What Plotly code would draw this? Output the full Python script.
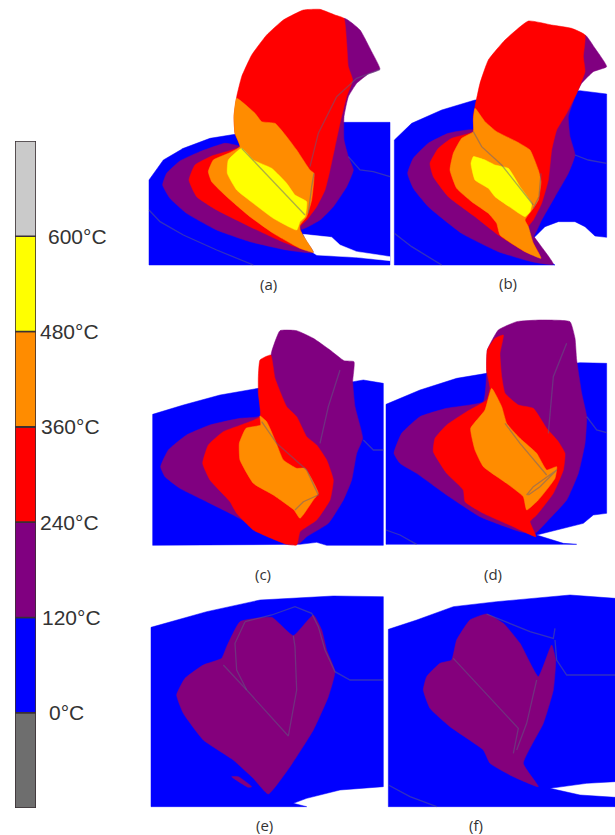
import plotly.graph_objects as go

# ---- colour scale data ----
SCALE_BASE = [-120, 0, 120, 240, 360, 480, 600]
SCALE_STEP = [120, 120, 120, 120, 120, 120, 120]
SCALE_COLORS = ["#6e6e6e", "#0000ff", "#800080", "#ff0000", "#ff8c00", "#ffff00", "#cacaca"]
SCALE_TICKS = [0, 120, 240, 360, 480, 600]
SCALE_LABELS = ["0°C", "120°C", "240°C", "360°C", "480°C", "600°C"]
SCALE_LABEL_X = [47, 40, 38, 39, 38, 46]

BLUE, PURPLE, RED, ORANGE, YELLOW = "#0000ff", "#800080", "#ff0000", "#ff8c00", "#ffff00"
PLUM = "#84007c"
WHITE = "#ffffff"

# ---- outlines, in 1/3 pixel crop units ----
A_ORIGIN = (140, 0)
A_BLUE = [(27,540),(70,480),(130,445),(210,415),(290,402),(612,367),(750,367),(750,795),(27,795)]
A_GAP = [(490,703),(540,708),(575,712),(600,735),(650,755),(750,770),(750,782),(650,772),(530,765),(515,755)]
A_P1 = [(68,555),(80,520),(120,483),(180,455),(255,430),(300,440),(400,600),(520,757),(440,750),(330,725),(230,690),(140,640),(90,595)]
A_P2 = [(612,55),(660,90),(695,155),(720,208),(685,222),(650,250),(625,290),(612,350),(612,420),(625,470),(640,510),(620,560),(580,620),(540,660),(485,688),(480,670),(500,600),(520,500)]
A_R = [(290,290),(305,230),(335,165),(380,105),(430,60),(490,30),(540,28),(585,45),(612,55),(620,130),(625,200),(638,240),(620,290),(600,370),(585,440),(570,510),(555,570),(530,620),(500,660),(480,680),(500,750),(420,722),(330,680),(230,630),(170,590),(147,540),(165,495),(215,468),(300,440),(285,400),(282,350)]
A_O = [(290,295),(345,340),(365,365),(405,370),(440,410),(470,450),(510,510),(522,520),(515,600),(500,650),(480,675),(480,690),(520,757),(480,745),(400,700),(330,650),(260,590),(215,545),(205,515),(220,480),(265,460),(300,440),(285,400),(282,350)]
A_Y = [(305,445),(340,480),(395,505),(440,550),(465,585),(500,605),(495,650),(480,665),(470,690),(400,655),(340,610),(290,570),(262,520),(265,480)]
A_L1 = [(305,445),(400,545),(495,645)]
A_L2 = [(27,630),(60,665),(130,705),(230,750),(340,795)]
A_L3 = [(522,520),(515,560),(505,640)]
A_L4 = [(510,500),(535,400),(590,290),(650,235),(720,208)]
A_L5 = [(625,470),(660,510),(700,515),(750,530)]

B_ORIGIN = (385, 0)
B_BLUE = [(28,420),(80,370),(170,330),(270,300),(585,272),(665,282),(665,712),(630,708),(600,680),(570,665),(520,665),(480,680),(445,715),(470,770),(510,795),(28,795)]
B_P1 = [(68,520),(85,475),(130,430),(190,400),(265,390),(300,450),(440,700),(505,793),(440,785),(340,755),(230,700),(130,620),(85,565)]
B_P2 = [(600,105),(630,145),(665,200),(625,215),(590,250),(570,290),(550,350),(555,410),(570,465),(550,520),(510,590),(470,660),(445,710),(430,680),(450,600),(480,400)]
B_R = [(270,320),(285,250),(310,180),(360,120),(430,63),(500,75),(560,85),(600,105),(595,170),(600,215),(575,280),(545,340),(515,390),(500,450),(490,540),(470,610),(445,660),(430,680),(440,720),(465,770),(420,755),(340,705),(270,650),(190,590),(145,530),(135,490),(160,445),(200,415),(265,395),(265,350)]
B_O = [(270,325),(300,365),(335,395),(395,425),(435,450),(460,510),(468,545),(460,600),(445,625),(420,660),(430,680),(445,730),(468,775),(420,755),(345,705),(335,670),(310,640),(260,605),(215,565),(195,510),(205,460),(230,415),(265,395),(265,360)]
B_Y = [(265,470),(300,480),(330,495),(370,505),(405,560),(440,610),(435,635),(420,650),(380,625),(330,590),(310,565),(270,540),(258,490)]
B_L1 = [(265,395),(290,440),(350,495),(400,560),(445,615)]
B_L2 = [(445,625),(462,590),(468,520)]
B_L3 = [(570,465),(610,480),(665,490)]
B_L4 = [(28,700),(80,740),(170,795)]

C_ORIGIN = (140, 310)
C_BLUE = [(38,313),(130,285),(240,255),(355,235),(640,215),(670,210),(730,220),(730,706),(560,706),(530,697),(480,703),(38,706)]
C_P = [(62,470),(85,420),(140,375),(210,345),(300,325),(360,318),(395,125),(420,62),(470,62),(520,85),(570,120),(612,152),(642,155),(638,215),(645,290),(668,385),(650,430),(635,510),(610,570),(565,640),(500,680),(478,700),(450,700),(380,670),(280,615),(190,570),(120,535),(75,500)]
C_R = [(360,150),(392,135),(405,205),(440,290),(470,320),(500,380),(530,405),(560,450),(580,510),(570,570),(530,630),(480,665),(470,705),(440,703),(340,660),(290,610),(270,575),(210,510),(188,460),(205,405),(250,365),(360,320),(355,250),(355,200)]
C_O = [(360,318),(380,335),(405,390),(430,450),(470,475),(495,475),(535,550),(520,570),(480,625),(462,600),(400,555),(340,520),(300,450),(298,400),(318,355),(362,345)]
C_L1 = [(365,335),(410,400),(500,480),(535,555),(490,575),(465,600)]
C_L2 = [(540,400),(565,290),(600,180)]
C_L3 = [(670,390),(700,420),(730,420)]

D_ORIGIN = (380, 310)
D_BLUE = [(18,283),(120,240),(230,205),(320,190),(600,158),(680,160),(680,610),(640,615),(610,640),(470,675),(550,700),(590,703),(18,703)]
D_P = [(42,430),(65,370),(120,320),(200,295),(310,275),(320,190),(322,120),(355,60),(410,35),(480,30),(570,35),(585,85),(590,150),(605,250),(620,320),(615,400),(595,490),(560,570),(510,625),(465,670),(420,665),(300,620),(200,555),(110,490),(60,460)]
D_R = [(345,85),(370,75),(360,130),(365,200),(375,250),(415,285),(460,295),(500,355),(535,395),(555,430),(550,480),(520,550),(470,615),(450,635),(468,680),(400,650),(310,610),(255,575),(250,540),(200,490),(160,425),(165,385),(200,345),(260,305),(320,270),(330,235),(320,180),(322,120)]
D_O = [(335,235),(365,290),(380,340),(420,385),(470,430),(500,480),(530,470),(525,505),(475,570),(440,600),(430,560),(380,520),(310,470),(285,420),(272,355),(315,300)]
D_L1 = [(375,340),(420,400),(500,495)]
D_L2 = [(440,555),(460,530),(530,480),(480,530),(445,555)]
D_L3 = [(505,370),(520,200),(560,100)]
D_L4 = [(620,320),(650,360),(680,368)]
D_L5 = [(18,660),(60,675),(110,703)]

E_ORIGIN = (140, 590)
E_BLUE = [(33,112),(200,65),(360,30),(580,18),(730,20),(730,590),(600,600),(500,625),(460,640),(500,650),(33,650)]
E_P = [(110,315),(135,265),(190,225),(245,205),(260,170),(300,95),(395,82),(460,137),(520,75),(545,120),(560,180),(585,245),(565,320),(520,420),(450,530),(385,612),(340,565),(280,510),(190,450),(130,370)]
E_SPOT = [(275,560),(295,560),(335,590),(325,592)]
E_L1 = [(315,95),(395,75),(465,50),(515,70),(535,110),(555,180),(585,245),(630,270),(730,270)]
E_L2 = [(315,95),(285,160),(290,240),(320,300),(445,438),(470,300),(465,170),(460,137)]
E_L3 = [(250,225),(320,300)]

F_ORIGIN = (380, 590)
F_BLUE = [(25,118),(110,90),(220,50),(350,35),(570,15),(705,25),(705,575),(620,580),(510,595),(600,615),(705,622),(705,650),(25,650)]
F_P = [(130,300),(140,260),(180,220),(215,210),(230,150),(270,90),(320,72),(370,100),(420,160),(475,260),(515,165),(527,210),(520,300),(490,400),(430,520),(475,590),(400,560),(330,520),(310,480),(210,410),(150,355)]
F_L1 = [(320,72),(390,100),(450,125),(520,145),(525,115)]
F_L2 = [(525,150),(530,210),(560,255),(705,255)]
F_L3 = [(220,205),(300,290),(415,415),(400,490)]
F_L4 = [(470,270),(440,400),(410,480)]
F_L5 = [(25,585),(90,620),(170,650)]

PANELS = [
    (A_ORIGIN, [(A_BLUE,BLUE,0),(A_GAP,WHITE,0),(A_P1,PURPLE,1),(A_P2,PURPLE,1),(A_R,RED,1),(A_O,ORANGE,1),(A_Y,YELLOW,1)], [A_L1,A_L2,A_L3,A_L4,A_L5]),
    (B_ORIGIN, [(B_BLUE,BLUE,0),(B_P1,PURPLE,1),(B_P2,PURPLE,1),(B_R,RED,1),(B_O,ORANGE,1),(B_Y,YELLOW,1)], [B_L1,B_L2,B_L3,B_L4]),
    (C_ORIGIN, [(C_BLUE,BLUE,0),(C_P,PURPLE,1),(C_R,RED,1),(C_O,ORANGE,1)], [C_L1,C_L2,C_L3]),
    (D_ORIGIN, [(D_BLUE,BLUE,0),(D_P,PURPLE,1),(D_R,RED,1),(D_O,ORANGE,1)], [D_L1,D_L2,D_L3,D_L4,D_L5]),
    (E_ORIGIN, [(E_BLUE,BLUE,0),(E_P,PLUM,1),(E_SPOT,PLUM,1)], [E_L1,E_L2,E_L3]),
    (F_ORIGIN, [(F_BLUE,BLUE,0),(F_P,PLUM,1)], [F_L1,F_L2,F_L3,F_L4,F_L5]),
]
PANEL_LABELS = ["(a)", "(b)", "(c)", "(d)", "(e)", "(f)"]
PANEL_LABEL_X = [268, 508, 263, 493, 264, 476]
PANEL_LABEL_Y = [284, 283, 574, 574, 825, 825]


def xy(origin, pts):
    return [origin[0] + p[0] / 3 for p in pts], [origin[1] + p[1] / 3 for p in pts]


fig = go.Figure()
for origin, regions, lines in PANELS:
    for pts, color, smooth in regions:
        x, y = xy(origin, pts + [pts[0]])
        fig.add_trace(go.Scatter(
            x=x, y=y, mode="lines", fill="toself", fillcolor=color,
            line=dict(color=color, width=0.5, shape="spline" if smooth else "linear", smoothing=0.4),
            hoverinfo="skip", showlegend=False))
    for pts in lines:
        x, y = xy(origin, pts)
        fig.add_trace(go.Scatter(
            x=x, y=y, mode="lines", line=dict(color="rgba(95,95,130,0.5)", width=1.3),
            hoverinfo="skip", showlegend=False))

for b, h, c in zip(SCALE_BASE, SCALE_STEP, SCALE_COLORS):
    fig.add_trace(go.Bar(
        x=[0], y=[h], base=[b], width=1, xaxis="x2", yaxis="y2",
        marker=dict(color=c, line=dict(color="#3a3034", width=1.6)),
        hoverinfo="skip", showlegend=False))

annotations = []
for t, lab, lx in zip(SCALE_TICKS, SCALE_LABELS, SCALE_LABEL_X):
    annotations.append(dict(x=lx, y=t, xref="x", yref="y2", text=lab, showarrow=False,
                            xanchor="left", yanchor="middle",
                            font=dict(family="Liberation Sans", size=21, color="#333333")))
for lab, lx, ly in zip(PANEL_LABELS, PANEL_LABEL_X, PANEL_LABEL_Y):
    annotations.append(dict(x=lx, y=ly, xref="x", yref="y", text=lab, showarrow=False,
                            xanchor="center", yanchor="middle",
                            font=dict(family="Open Sans", size=15, color="#333333")))

fig.update_layout(
    width=615, height=835, margin=dict(l=0, r=0, t=0, b=0),
    paper_bgcolor="white", plot_bgcolor="white", barmode="overlay",
    annotations=annotations,
    xaxis=dict(range=[0, 615], visible=False, domain=[0, 1], fixedrange=True),
    yaxis=dict(range=[835, 0], visible=False, domain=[0, 1], fixedrange=True),
    xaxis2=dict(range=[-0.5, 0.5], visible=False, domain=[15 / 615, 36 / 615], anchor="y2", fixedrange=True),
    yaxis2=dict(range=[-120, 720], visible=False, domain=[1 - 808 / 835, 1 - 141 / 835], anchor="x2", fixedrange=True),
)
fig.write_html("out.html", config={"displayModeBar": False},
               post_script="document.body.style.margin='0';document.body.style.overflow='hidden';")
